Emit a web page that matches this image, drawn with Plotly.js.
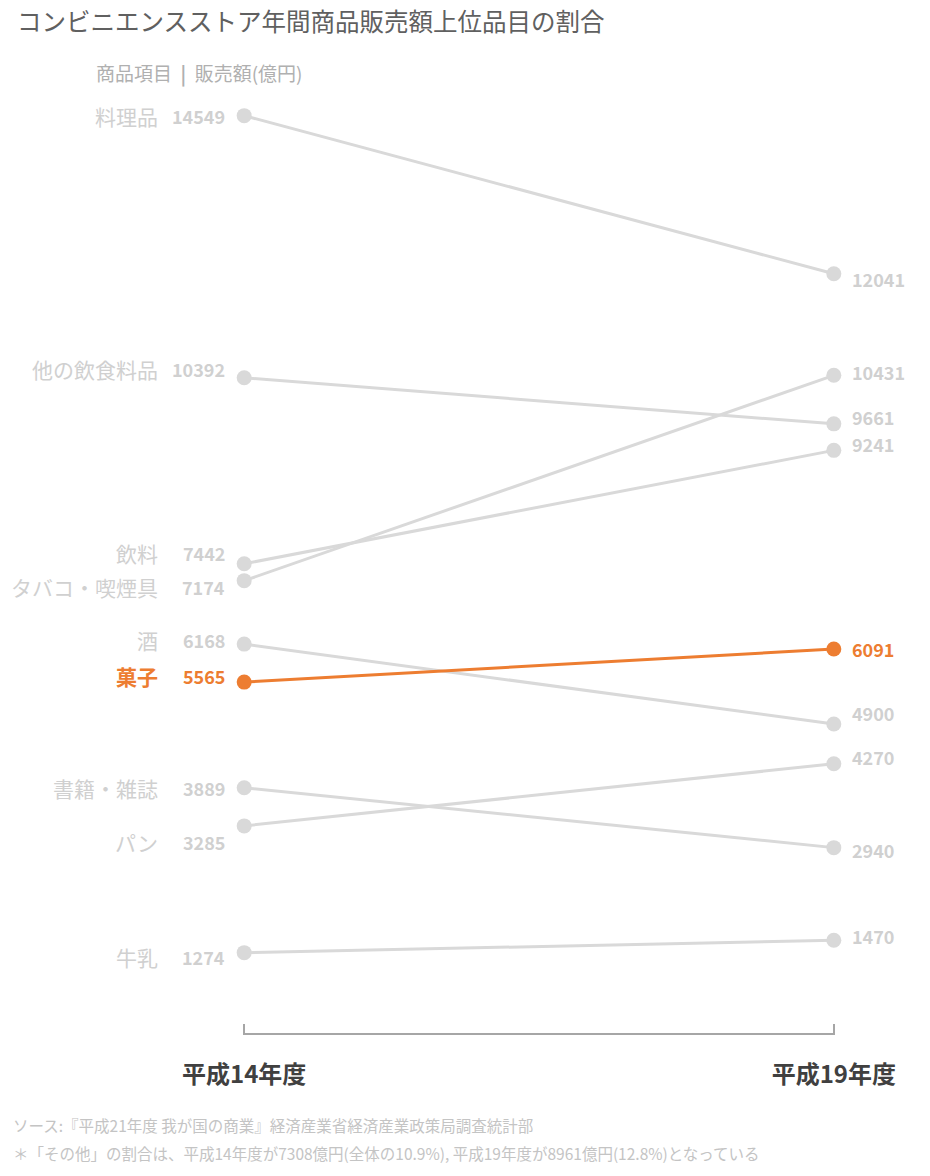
<!DOCTYPE html>
<html>
<head>
<meta charset="utf-8">
<script src="https://cdn.plot.ly/plotly-3.0.1.min.js"></script>
<style>
  body { margin: 0; background: #fff; }
  #chart { width: 930px; height: 1176px; }
</style>
</head>
<body>
<div id="chart"></div>
<script>
// data (億円)
var years = ['平成14年度', '平成19年度'];
var items = ['料理品', '他の飲食料品', '飲料', 'タバコ・喫煙具', '酒', '菓子', '書籍・雑誌', 'パン', '牛乳'];
var sales14 = [14549, 10392, 7442, 7174, 6168, 5565, 3889, 3285, 1274];
var sales19 = [12041, 9661, 9241, 10431, 4900, 6091, 2940, 4270, 1470];
var highlight = '菓子';

// label nudges so the texts do not collide (pixels)
var leftShift = [0, 9, 11, -6, 4, 6, 0, -16, -4];
var rightShift = [-5, 7, 6, 3, 11, 0, -2, 7, 4];

var grey = '#d9d9d9';
var orange = '#ED7D31';
var font = '"Noto Sans CJK JP", "Noto Sans", sans-serif';

var traces = [];
var notes = [];

items.forEach(function (name, i) {
    var hot = name === highlight;
    var col = hot ? orange : grey;
    var txt = hot ? orange : '#d0d0d0';
    traces.push({
        x: [0, 1],
        y: [sales14[i], sales19[i]],
        mode: 'lines+markers',
        line: { color: col, width: 3 },
        marker: { color: col, size: 15 },
        cliponaxis: false,
        hoverinfo: 'skip',
        showlegend: false
    });
    // left: item name and value
    notes.push({
        x: 0, y: sales14[i], xref: 'x', yref: 'y',
        text: hot ? '<b>' + name + '</b>' : name,
        showarrow: false, xanchor: 'right', yanchor: 'middle',
        xshift: -84, yshift: leftShift[i],
        font: { family: font, size: 21, color: txt }
    });
    notes.push({
        x: 0, y: sales14[i], xref: 'x', yref: 'y',
        text: '<b>' + sales14[i] + '</b>',
        showarrow: false, xanchor: 'right', yanchor: 'middle',
        xshift: -17, yshift: leftShift[i],
        font: { family: font, size: 18, color: txt }
    });
    // right: value
    notes.push({
        x: 1, y: sales19[i], xref: 'x', yref: 'y',
        text: '<b>' + sales19[i] + '</b>',
        showarrow: false, xanchor: 'left', yanchor: 'middle',
        xshift: 16, yshift: rightShift[i],
        font: { family: font, size: 18, color: txt }
    });
});

// column header
notes.push({
    x: 0, y: 1, xref: 'paper', yref: 'paper',
    text: '商品項目  <b>|</b>  販売額(億円)',
    showarrow: false, xanchor: 'left', yanchor: 'middle',
    xshift: -149, yshift: -13,
    font: { family: font, size: 19, color: '#b0b0b0' }
});

// footnotes
notes.push({
    x: 0, y: 0, xref: 'paper', yref: 'paper',
    text: 'ソース:『平成21年度 我が国の商業』経済産業省経済産業政策局調査統計部',
    showarrow: false, xanchor: 'left', yanchor: 'middle',
    xshift: -232, yshift: -92,
    font: { family: font, size: 15.5, color: '#c4c4c4' }
});
notes.push({
    x: 0, y: 0, xref: 'paper', yref: 'paper',
    text: '＊「その他」の割合は、平成14年度が7308億円(全体の10.9%), 平成19年度が8961億円(12.8%)となっている',
    showarrow: false, xanchor: 'left', yanchor: 'middle',
    xshift: -232, yshift: -120,
    font: { family: font, size: 15.5, color: '#c4c4c4' }
});

var layout = {
    width: 930,
    height: 1176,
    margin: { l: 243, r: 95, t: 60, b: 143 },
    paper_bgcolor: '#ffffff',
    plot_bgcolor: '#ffffff',
    title: {
        text: 'コンビニエンスストア年間商品販売額上位品目の割合',
        xref: 'container', yref: 'container',
        x: 17 / 930, xanchor: 'left',
        y: 1 - 22 / 1176, yanchor: 'middle',
        font: { family: font, size: 24.5, color: '#606060' }
    },
    xaxis: {
        range: [-0.002, 1.002],
        tickvals: [0, 1],
        ticktext: years.map(function (t) { return '<b>' + t + '</b>'; }),
        ticks: 'inside',
        ticklen: 9,
        tickwidth: 2,
        tickcolor: '#a6a6a6',
        showline: true,
        linecolor: '#a6a6a6',
        linewidth: 2,
        showgrid: false,
        zeroline: false,
        ticklabelstandoff: 19,
        tickfont: { family: font, size: 24, color: '#404040' },
        fixedrange: true
    },
    yaxis: {
        range: [0, 15432],
        visible: false,
        showgrid: false,
        zeroline: false,
        fixedrange: true
    },
    annotations: notes,
    hovermode: false
};

Plotly.newPlot('chart', traces, layout, { displayModeBar: false, staticPlot: true });
</script>
</body>
</html>
